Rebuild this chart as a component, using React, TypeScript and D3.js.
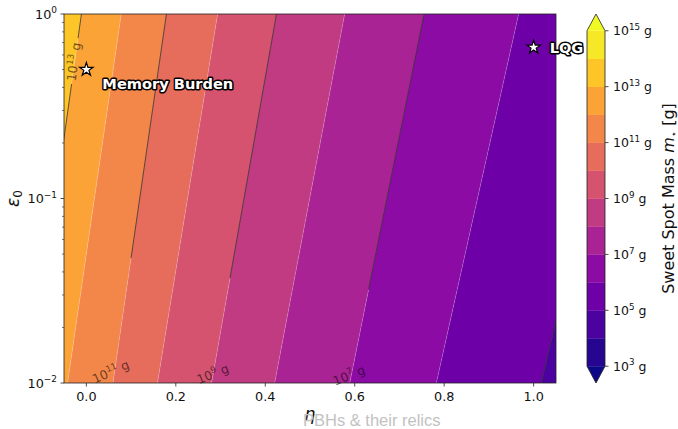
import { useEffect, useRef } from 'react'
import * as d3 from 'd3'

const W = 678
const H = 429
const PLOT = { left: 64, right: 556, top: 14, bottom: 383 }
const CBAR = { left: 587, right: 605, top: 14, bottom: 383 }
const FONT = '"DejaVu Sans", sans-serif'

// filled-contour boundaries: log10(m* / g) and the η where each one meets ε0 = 1 and ε0 = 0.01
const LEVELS = [14, 13, 12, 11, 10, 9, 8, 7, 6, 5, 4]
const ETA_AT_TOP = [-0.1, -0.011, 0.078, 0.179, 0.2935, 0.425, 0.5775, 0.755, 0.9665, 1.2135, 1.5]
const ETA_AT_BOTTOM = [-0.22, -0.127, -0.042, 0.0595, 0.159, 0.28, 0.421, 0.589, 0.7825, 1.017, 1.32]

// dark contour lines, with the ε0 ranges that are still drawn after inline labelling
const LINE_LEVELS = [13, 11, 9, 7, 5]
const LINE_SEGMENTS = [
  [[1, 0.74], [0.418, 0.01]],
  [[1, 0.0476]],
  [[1, 0.037]],
  [[1, 0.032]],
  [[1, 0.01]],
]

// contour labels
const LABEL_LEVELS = [13, 11, 9, 7]
const LABEL_ETA = [-0.028, 0.0546, 0.2826, 0.587]
const LABEL_EPS = [0.55, 0.0115, 0.0112, 0.011]
const LABEL_ANGLE = [-82, -24, -22, -22]

// benchmark points
const POINT_NAMES = ['Memory Burden', 'LQG']
const POINT_ETA = [0.0, 1.0]
const POINT_EPS = [0.5, 0.66]

const X_TICKS = [0, 0.2, 0.4, 0.6, 0.8, 1.0]
const Y_TICKS = [0.01, 0.1, 1]
const Y_TICK_EXP = ['−2', '−1', '0']
const CBAR_MIN = 3
const CBAR_MAX = 15
const CBAR_TICKS = [15, 13, 11, 9, 7, 5, 3]

function powerLabel(sel: any, exp: string, size: number, suffix = '') {
  sel.append('tspan').text('10')
  sel.append('tspan').attr('font-size', size * 0.7).attr('dy', -size * 0.42).text(exp)
  if (suffix) sel.append('tspan').attr('font-size', size).attr('dy', size * 0.42).text(suffix)
}

export default function App() {
  const svgRef = useRef<SVGSVGElement | null>(null)

  useEffect(() => {
    if (!svgRef.current) return
    const svg = d3.select(svgRef.current)
    svg.selectAll('*').remove()

    const x = d3.scaleLinear().domain([-0.05, 1.05]).range([PLOT.left, PLOT.right])
    const y = d3.scaleLog().domain([0.01, 1]).range([PLOT.bottom, PLOT.top])
    const bandColor = (lo: number) => d3.interpolatePlasma((lo + 0.5 - CBAR_MIN) / (CBAR_MAX - CBAR_MIN))
    // contour i is straight in (η, log ε0)
    const etaOn = (i: number, eps: number) => {
      const t = Math.log10(eps) / -2
      return ETA_AT_TOP[i] + t * (ETA_AT_BOTTOM[i] - ETA_AT_TOP[i])
    }
    const line = d3.line<[number, number]>().x(d => x(d[0])).y(d => y(d[1]))

    svg.append('defs').append('clipPath').attr('id', 'plot-clip')
      .append('rect')
      .attr('x', PLOT.left).attr('y', PLOT.top)
      .attr('width', PLOT.right - PLOT.left).attr('height', PLOT.bottom - PLOT.top)

    const plot = svg.append('g').attr('clip-path', 'url(#plot-clip)')

    // filled bands
    for (let i = 0; i < LEVELS.length - 1; i++) {
      const pts: [number, number][] = [
        [ETA_AT_TOP[i], 1], [ETA_AT_TOP[i + 1], 1],
        [ETA_AT_BOTTOM[i + 1], 0.01], [ETA_AT_BOTTOM[i], 0.01],
      ]
      plot.append('path').attr('d', line(pts) + 'Z').attr('fill', bandColor(LEVELS[i + 1]))
    }

    // faint seams between bands
    LEVELS.forEach((_, i) => {
      plot.append('path')
        .attr('d', line([[ETA_AT_TOP[i], 1], [ETA_AT_BOTTOM[i], 0.01]]))
        .attr('stroke', 'rgba(255,255,255,0.3)').attr('stroke-width', 0.6).attr('fill', 'none')
    })

    // dark contour lines
    LINE_LEVELS.forEach((lvl, j) => {
      const i = LEVELS.indexOf(lvl)
      LINE_SEGMENTS[j].forEach(([e1, e2]) => {
        plot.append('path')
          .attr('d', line([[etaOn(i, e1), e1], [etaOn(i, e2), e2]]))
          .attr('stroke', 'rgba(0,0,0,0.62)').attr('stroke-width', 1).attr('fill', 'none')
      })
    })

    // contour labels
    LABEL_LEVELS.forEach((lvl, j) => {
      const t = svg.append('text')
        .attr('transform', `translate(${x(LABEL_ETA[j])},${y(LABEL_EPS[j])}) rotate(${LABEL_ANGLE[j]})`)
        .attr('text-anchor', 'middle').attr('dy', '0.35em')
        .attr('font-family', FONT).attr('font-size', 12.5)
        .attr('fill', 'rgba(0,0,0,0.58)')
      powerLabel(t, String(lvl), 12.5, ' g')
    })

    // frame
    svg.append('rect')
      .attr('x', PLOT.left).attr('y', PLOT.top)
      .attr('width', PLOT.right - PLOT.left).attr('height', PLOT.bottom - PLOT.top)
      .attr('fill', 'none').attr('stroke', '#222').attr('stroke-width', 0.8)

    // x ticks
    X_TICKS.forEach(v => {
      svg.append('line').attr('x1', x(v)).attr('x2', x(v))
        .attr('y1', PLOT.bottom).attr('y2', PLOT.bottom + 3.5)
        .attr('stroke', '#222').attr('stroke-width', 0.8)
      svg.append('text').attr('x', x(v)).attr('y', PLOT.bottom + 18)
        .attr('text-anchor', 'middle').attr('font-family', FONT).attr('font-size', 12.8)
        .attr('fill', '#111').text(v.toFixed(1))
    })

    // y ticks (log)
    Y_TICKS.forEach((v, k) => {
      svg.append('line').attr('x1', PLOT.left - 3.5).attr('x2', PLOT.left)
        .attr('y1', y(v)).attr('y2', y(v)).attr('stroke', '#222').attr('stroke-width', 0.8)
      const t = svg.append('text').attr('x', PLOT.left - 7).attr('y', y(v) + 4.5)
        .attr('text-anchor', 'end').attr('font-family', FONT).attr('font-size', 12.8).attr('fill', '#111')
      powerLabel(t, Y_TICK_EXP[k], 12.8)
    })
    y.ticks().filter(v => !Y_TICKS.includes(v)).forEach(v => {
      svg.append('line').attr('x1', PLOT.left - 2).attr('x2', PLOT.left)
        .attr('y1', y(v)).attr('y2', y(v)).attr('stroke', '#222').attr('stroke-width', 0.6)
    })

    // axis labels
    svg.append('text').attr('x', (PLOT.left + PLOT.right) / 2).attr('y', 420)
      .attr('text-anchor', 'middle').attr('font-family', FONT).attr('font-style', 'italic')
      .attr('font-size', 17).attr('fill', '#111').text('η')
    const yl = svg.append('text')
      .attr('transform', `translate(19,${(PLOT.top + PLOT.bottom) / 2}) rotate(-90)`)
      .attr('text-anchor', 'middle').attr('font-family', FONT).attr('font-size', 17).attr('fill', '#111')
    yl.append('tspan').attr('font-style', 'italic').text('ε')
    yl.append('tspan').attr('font-size', 12).attr('dy', 3).text('0')

    // watermark
    svg.append('text').attr('x', 303).attr('y', 426)
      .attr('font-family', '"Liberation Sans", sans-serif').attr('font-size', 16.5)
      .attr('fill', '#c2c2c2').text('PBHs & their relics')

    // benchmark points
    const star = d3.symbol(d3.symbolStar, 56)()
    POINT_NAMES.forEach((name, k) => {
      const px = x(POINT_ETA[k])
      const py = y(POINT_EPS[k])
      svg.append('path').attr('d', star).attr('transform', `translate(${px},${py})`)
        .attr('fill', '#fff').attr('stroke', '#000').attr('stroke-width', 1.2)
      const dy = k === 0 ? 19 : 6
      svg.append('text').attr('x', px + 16).attr('y', py + dy)
        .attr('font-family', FONT).attr('font-weight', 'bold').attr('font-size', 14.6)
        .attr('fill', '#fff').attr('stroke', '#000').attr('stroke-width', 3)
        .attr('stroke-linejoin', 'round').attr('paint-order', 'stroke')
        .text(name)
    })

    // colorbar
    const len = (CBAR.bottom - CBAR.top) / 1.1
    const ext = 0.05 * len
    const c = d3.scaleLinear().domain([CBAR_MIN, CBAR_MAX]).range([CBAR.bottom - ext, CBAR.top + ext])
    const cx = (CBAR.left + CBAR.right) / 2
    d3.range(CBAR_MIN, CBAR_MAX).forEach(lo => {
      svg.append('rect').attr('x', CBAR.left).attr('y', c(lo + 1))
        .attr('width', CBAR.right - CBAR.left).attr('height', c(lo) - c(lo + 1) + 0.3)
        .attr('fill', bandColor(lo))
    })
    svg.append('path')
      .attr('d', `M${CBAR.left},${c(CBAR_MAX)}L${cx},${CBAR.top}L${CBAR.right},${c(CBAR_MAX)}Z`)
      .attr('fill', d3.interpolatePlasma(1))
    svg.append('path')
      .attr('d', `M${CBAR.left},${c(CBAR_MIN)}L${cx},${CBAR.bottom}L${CBAR.right},${c(CBAR_MIN)}Z`)
      .attr('fill', d3.interpolatePlasma(0))
    svg.append('path')
      .attr('d', `M${CBAR.left},${c(CBAR_MAX)}L${cx},${CBAR.top}L${CBAR.right},${c(CBAR_MAX)}` +
        `L${CBAR.right},${c(CBAR_MIN)}L${cx},${CBAR.bottom}L${CBAR.left},${c(CBAR_MIN)}Z`)
      .attr('fill', 'none').attr('stroke', '#222').attr('stroke-width', 0.8)
    CBAR_TICKS.forEach(v => {
      svg.append('line').attr('x1', CBAR.right).attr('x2', CBAR.right + 3.5)
        .attr('y1', c(v)).attr('y2', c(v)).attr('stroke', '#222').attr('stroke-width', 0.8)
      const t = svg.append('text').attr('x', CBAR.right + 8).attr('y', c(v) + 4.5)
        .attr('font-family', FONT).attr('font-size', 12.5).attr('fill', '#111')
      powerLabel(t, String(v), 12.5, ' g')
    })
    const cl = svg.append('text')
      .attr('transform', `translate(673.5,${(CBAR.top + CBAR.bottom) / 2}) rotate(-90)`)
      .attr('text-anchor', 'middle').attr('font-family', FONT).attr('font-size', 16).attr('fill', '#111')
    cl.append('tspan').text('Sweet Spot Mass ')
    cl.append('tspan').attr('font-style', 'italic').text('m')
    cl.append('tspan').attr('font-size', 10).attr('dy', 3).text('⋆')
    cl.append('tspan').attr('font-size', 16).attr('dy', -3).text('  [g]')
  }, [])

  return (
    <div style={{ position: 'absolute', left: 0, top: 0, width: W, height: H, background: '#fff' }}>
      <svg ref={svgRef} width={W} height={H} />
    </div>
  )
}
